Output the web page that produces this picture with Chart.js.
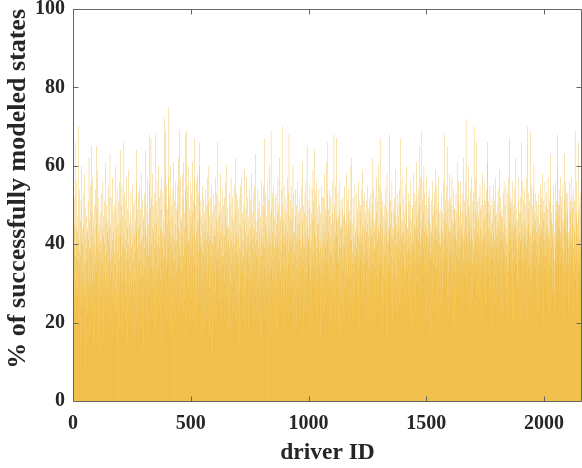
<!DOCTYPE html>
<html><head><meta charset="utf-8">
<script src="https://cdn.jsdelivr.net/npm/chart.js@4"></script>
<style>html,body{margin:0;padding:0;background:#fff}#wrap{width:582px;height:468px;position:relative}</style>
</head><body><div id="wrap"><canvas id="c"></canvas></div>
<script>
const xTicks=[0,500,1000,1500,2000];
const yTicks=[0,20,40,60,80,100];
const xMax=2161;
const successA=[
34,48,41,18,45,26,39,52,66,37,31,23,44,29,56,40,12,36,43,27,
47,33,26,70,41,35,54,21,38,30,15,46,37,51,24,42,60,25,32,44,
40,28,53,33,19,45,36,29,58,24,42,35,49,27,8,39,31,47,22,43,
36,44,22,51,30,41,27,62,38,17,46,33,25,55,39,29,48,21,65,37,
42,30,57,24,38,47,34,14,44,31,50,26,40,35,20,54,37,28,45,65,
33,49,39,23,59,31,43,18,36,52,28,45,38,11,41,32,48,25,40,34,
53,27,38,44,21,35,56,30,42,16,47,33,26,40,51,37,29,61,23,45,
38,32,50,19,43,29,46,24,55,34,41,27,52,39,22,44,63,31,36,26,
45,20,39,52,33,37,27,57,41,17,48,31,43,25,35,50,38,29,60,23,
41,35,49,28,44,22,54,32,38,13,45,34,51,26,42,36,30,56,19,46,
33,64,42,30,50,25,37,55,31,40,18,47,66,35,43,23,39,53,28,38,
51,30,41,20,46,36,57,27,32,44,15,49,38,24,40,34,59,29,45,22,
37,48,26,43,33,53,29,39,18,45,35,55,31,40,23,50,36,28,44,16,
42,32,51,25,38,46,30,56,21,43,64,34,49,27,39,17,53,35,44,29,
36,55,30,45,23,40,49,33,19,41,58,31,38,26,51,35,42,14,47,32,
46,28,39,53,34,24,44,64,30,50,37,21,42,32,57,27,40,48,17,37,
31,45,38,55,26,68,41,34,49,29,67,40,23,52,36,44,28,58,33,20,
43,50,35,24,53,39,30,46,18,41,68,33,51,27,45,37,56,22,40,32,
47,34,60,29,42,52,25,39,35,54,15,44,31,49,38,26,57,41,30,43,
39,53,36,33,46,25,72,37,42,31,58,40,69,28,50,34,21,55,36,45,
35,49,41,27,57,39,75,32,43,52,22,46,37,60,30,42,50,17,40,34,
54,38,31,47,24,43,61,35,41,28,51,36,20,45,56,32,40,26,49,33,
41,30,50,36,55,23,44,34,62,38,39,69,27,43,19,37,57,32,47,25,
46,33,40,58,29,42,52,22,37,61,34,48,26,44,39,16,54,68,35,41,
38,51,69,31,45,24,55,36,41,28,60,40,34,49,20,43,30,56,37,47,
32,45,53,26,39,48,34,61,42,21,51,37,29,44,67,35,57,27,41,18,
50,36,43,30,56,23,40,58,34,46,28,53,38,25,45,60,66,32,48,39];
const successB=[
26,42,51,35,40,16,47,31,55,38,24,45,37,52,29,41,19,48,34,43,
39,28,46,54,33,41,21,50,36,57,31,43,25,40,51,35,60,29,42,17,
47,34,41,24,52,37,30,45,55,32,40,12,48,35,42,27,53,38,22,44,
33,50,40,28,57,42,20,46,36,53,31,43,38,34,66,26,47,39,32,51,
41,25,48,36,43,31,58,23,39,49,34,15,45,37,54,30,42,26,50,35,
37,52,30,42,21,47,34,56,38,27,44,60,32,40,24,49,36,45,18,41,
44,32,39,53,26,37,50,30,43,18,57,35,41,28,47,39,23,52,33,42,
29,46,36,55,31,40,23,48,38,34,62,27,43,53,20,41,35,51,25,37,
49,24,42,35,52,28,39,14,45,33,55,38,29,44,57,32,40,21,48,36,
34,41,27,50,37,23,46,32,59,40,29,43,17,49,36,31,57,39,25,42,
38,52,31,43,19,47,35,40,28,54,37,24,44,33,51,30,41,58,26,45,
32,39,48,25,42,35,53,29,44,20,38,55,33,40,63,27,46,37,23,43,
41,28,46,36,54,30,21,49,39,34,43,26,51,32,37,16,47,40,29,56,
35,44,24,50,37,42,31,55,27,40,49,34,67,39,22,45,32,53,38,28,
43,30,47,19,41,35,56,32,39,51,25,44,36,60,29,42,48,33,17,40,
69,34,49,37,26,43,53,31,40,46,23,55,36,29,47,39,33,52,21,42,
37,53,29,45,40,18,48,35,42,57,27,39,50,32,43,24,62,36,46,31,
47,33,41,24,54,38,30,70,44,35,50,28,40,19,46,55,34,42,26,49,
39,45,31,52,36,25,48,41,33,57,29,43,21,38,53,35,68,40,27,47,
34,42,51,28,39,55,32,46,23,41,37,49,30,60,25,43,35,53,38,18,
43,31,37,54,26,47,40,34,50,20,42,36,56,29,45,33,48,24,41,38,
52,29,45,35,41,22,49,37,32,55,39,27,46,61,34,42,17,50,36,40,
32,48,39,25,53,36,43,29,56,33,40,23,47,65,38,44,28,51,35,41,
42,35,27,49,40,55,31,45,19,39,48,34,41,26,54,37,30,46,59,33,
38,51,34,43,64,29,47,37,24,42,53,32,39,28,56,36,45,21,49,35,
45,31,42,54,27,38,50,34,41,16,48,39,32,55,36,25,43,52,29,40,
33,45,37,22,52,41,35,58,28,43,39,49,25,47,32,61,40,36,53,27];
const successC=[
41,66,35,49,30,43,25,39,54,33,47,37,20,42,52,31,45,28,38,56,
36,29,48,40,24,46,34,68,41,32,50,27,43,38,55,22,42,67,35,47,
38,46,29,42,53,36,21,47,35,49,31,40,56,27,44,39,17,51,33,45,
44,31,49,37,25,52,40,34,47,20,39,48,29,55,36,42,27,46,33,58,
29,45,38,51,32,24,43,48,35,54,40,19,44,31,49,37,26,46,41,60,
62,32,41,24,45,35,38,28,52,20,42,33,47,26,40,36,55,31,43,37,
44,35,53,39,30,46,23,42,49,33,56,37,27,43,51,18,41,34,48,38,
36,50,42,25,54,40,32,45,59,34,41,28,51,38,22,44,35,53,30,46,
41,33,48,38,21,51,43,36,55,29,45,39,26,49,34,42,14,52,37,32,
48,40,30,44,53,35,42,24,46,62,33,50,38,27,43,54,36,20,45,39,
34,46,38,52,26,43,32,57,40,48,29,41,23,51,36,44,60,31,42,35,
43,29,55,67,37,45,33,49,19,41,53,35,44,27,51,39,32,47,24,40,
50,37,42,31,46,25,54,38,34,49,43,30,58,36,41,16,48,40,33,44,
35,53,43,68,28,45,39,51,33,42,24,48,37,56,31,44,21,41,49,36,
42,33,48,26,52,38,44,30,59,35,47,40,23,45,32,53,37,43,28,50,
39,47,32,44,36,54,25,41,67,34,50,38,29,46,42,18,57,35,43,40,
46,30,52,37,43,23,48,34,40,55,32,45,26,41,50,36,60,33,44,38,
33,44,39,53,28,42,47,35,24,51,38,43,31,56,37,19,46,40,34,49,
41,50,35,43,58,32,40,27,45,38,53,22,44,36,51,33,42,61,30,47,
52,38,44,30,48,35,54,41,26,65,43,50,34,40,57,37,28,46,42,32,
69,41,51,36,44,56,32,48,39,60,35,43,53,27,45,40,33,50,21,42,
44,57,37,49,33,42,25,52,40,34,46,54,30,41,50,36,17,45,38,43,
36,43,51,32,47,39,56,28,42,48,35,23,50,41,37,53,31,44,59,34,
45,34,41,55,27,49,38,44,20,51,36,42,57,33,40,48,30,43,25,39,
40,49,33,44,53,36,42,29,48,24,43,38,56,35,41,32,68,46,37,51,
34,42,48,30,45,39,55,36,27,41,65,49,33,44,22,51,38,43,35,58,
43,37,52,26,44,50,32,40,57,35,46,28,42,38,54,19,45,33,49,41];
const successD=[
49,33,42,46,24,53,37,41,30,48,61,34,43,39,27,51,36,56,31,44,
39,47,28,56,40,35,50,43,21,45,38,53,33,42,48,26,41,36,62,32,
44,51,35,41,48,32,56,38,72,42,30,47,36,52,24,43,40,49,34,60,
37,43,50,33,46,22,40,54,36,44,57,29,42,48,35,41,26,51,38,33,
53,39,70,36,44,30,49,41,33,57,42,66,35,47,24,51,38,43,27,48,
40,34,46,52,26,42,37,55,31,44,49,35,21,50,39,43,32,58,36,41,
46,50,33,42,38,56,28,47,41,35,51,24,43,37,54,30,48,40,61,34,
66,37,44,32,51,41,26,48,35,55,39,43,30,50,36,42,18,45,52,38,
36,46,40,55,29,43,49,34,41,24,51,37,47,57,32,42,39,27,48,44,
42,31,50,38,46,35,54,27,44,40,59,33,48,22,41,52,36,43,30,47,
49,41,34,47,23,53,39,43,36,56,32,45,38,50,28,42,35,55,40,25,
37,44,53,30,19,40,35,57,42,33,50,67,38,46,26,52,41,34,49,43,
32,51,39,45,36,56,28,43,48,41,21,50,37,44,54,33,40,62,35,46,
44,35,49,41,29,31,46,39,26,51,42,36,57,30,48,43,38,20,52,40,
41,48,66,36,43,21,32,45,38,56,28,42,51,35,24,46,40,54,37,44,
50,33,42,18,39,57,36,44,30,70,41,49,34,45,53,27,43,38,51,35,
69,42,24,35,31,40,55,32,43,50,37,45,28,54,41,36,60,44,33,48,
38,53,34,46,41,26,51,43,37,29,31,47,40,50,23,44,35,53,42,33,
45,36,50,42,28,55,39,44,35,52,43,32,58,38,48,41,19,46,51,37,
34,48,41,56,37,43,30,50,45,36,53,39,25,44,49,33,57,40,42,31,
43,51,35,22,41,63,38,54,32,46,39,48,34,30,42,27,45,50,36,55,
40,33,23,43,28,36,46,39,56,30,48,42,35,51,38,60,68,44,33,50,
47,41,36,54,44,28,50,40,57,35,43,22,49,37,52,42,34,46,39,55,
36,44,21,38,46,33,51,63,27,48,56,42,39,43,35,53,31,47,41,49,
53,39,43,35,24,41,26,56,44,37,51,33,48,40,57,36,42,29,52,45,
41,49,34,20,39,54,32,44,51,37,43,69,35,31,40,48,28,46,56,38,
45,36,23,42,33,66,48,39,34,41,35,50,43,30,53,38,47,34,52,41];
const success=successA.concat(successB,successC,successD);
const points=success.map((v,i)=>({x:i+1,y:v}));

const serif='"Liberation Serif","Times New Roman",serif';
const frame={id:'frame',afterDraw(chart){
  const {ctx,chartArea:a,scales:{x,y}}=chart;
  ctx.save();
  ctx.strokeStyle='#666666';ctx.lineWidth=1;
  const L=a.left+0.5,R=a.right-0.5,T=a.top+0.5,B=a.bottom+0.5;
  ctx.beginPath();
  ctx.moveTo(L,T);ctx.lineTo(R,T);ctx.lineTo(R,B);ctx.lineTo(L,B);ctx.closePath();
  xTicks.forEach(v=>{const p=Math.round(x.getPixelForValue(v))+0.5;ctx.moveTo(p,B);ctx.lineTo(p,B-5);ctx.moveTo(p,T);ctx.lineTo(p,T+5);});
  yTicks.forEach(v=>{const p=Math.round(y.getPixelForValue(v))+0.5;ctx.moveTo(L,p);ctx.lineTo(L+5,p);ctx.moveTo(R,p);ctx.lineTo(R-5,p);});
  ctx.stroke();ctx.restore();
}};

new Chart(document.getElementById('c'),{
  type:'bar',
  data:{datasets:[{data:points,backgroundColor:'rgb(238,182,48)',borderWidth:0,barPercentage:1.6,categoryPercentage:1}]},
  options:{
    responsive:true,maintainAspectRatio:false,animation:false,
    layout:{padding:{top:9,right:0,left:0,bottom:0}},
    plugins:{legend:{display:false},tooltip:{enabled:false}},
    scales:{
      x:{type:'linear',min:0,max:xMax,offset:false,
        grid:{display:false,drawTicks:false},border:{display:false},
        afterBuildTicks:s=>{s.ticks=xTicks.map(v=>({value:v}));},
        afterFit:s=>{s.height=67;s.paddingLeft=0;s.paddingRight=0;},
        ticks:{padding:11,maxRotation:0,autoSkip:false,color:'#262626',callback:v=>String(v),font:{family:serif,size:20,weight:'bold'}},
        title:{display:true,text:'driver ID',color:'#262626',padding:{top:0,bottom:1},font:{family:serif,size:23.5,weight:'bold'}}},
      y:{min:0,max:100,
        grid:{display:false,drawTicks:false},border:{display:false},
        afterBuildTicks:s=>{s.ticks=yTicks.map(v=>({value:v}));},
        afterFit:s=>{s.width=73;s.paddingTop=0;s.paddingBottom=0;},
        ticks:{padding:8,color:'#262626',callback:v=>String(v),font:{family:serif,size:20,weight:'bold'}},
        title:{display:true,text:'% of successfully modeled states',align:'end',color:'#262626',padding:{top:3,bottom:0},font:{family:serif,size:26,weight:'bold'}}}
    }
  },
  plugins:[frame]
});
</script></body></html>
